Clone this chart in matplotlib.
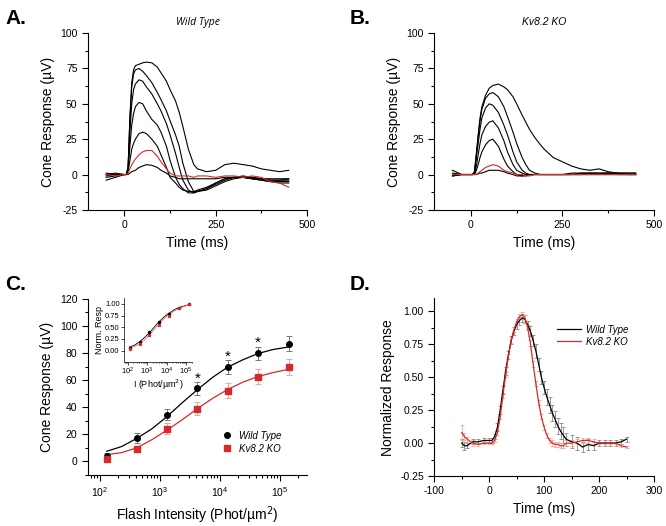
import numpy as np
import matplotlib
matplotlib.use("Agg")
import matplotlib.pyplot as plt
from matplotlib.ticker import MultipleLocator, LogLocator, NullFormatter, FormatStrFormatter

plt.rcParams['font.family'] = ['Liberation Sans', 'DejaVu Sans']
plt.rcParams['axes.linewidth'] = 0.8
plt.rcParams['axes.unicode_minus'] = False

# data ------------------------------------------------------------------

# panel A / B: cone response traces (uV), sampled at trace_t (ms)
trace_t = [-50, -25, 0, 5, 10, 15, 20, 25, 30, 40, 50, 60, 75, 90, 100, 115, 125,
           140, 150, 160, 175, 190, 200, 225, 250, 275, 300, 325, 350, 375, 400, 425, 450]

wt_traces = [
    [0, 0, 0, 0, 5, 40, 65, 74, 77, 78, 79, 79.5, 79, 76, 72, 66, 60,
     52, 44, 34, 18, 7, 4, 2, 3, 7, 8, 7, 6, 4, 3, 2, 3],
    [-1, 0, 0, 0, 5, 40, 62, 71, 74, 75, 73, 70, 65, 58, 53, 45, 38,
     28, 20, 8, -5, -12, -12, -10, -6, -3, -2, -2, -3, -3, -4, -4, -3],
    [0, 1, 0, 0, 4, 30, 50, 60, 64, 67, 66, 62, 57, 50, 45, 36, 28,
     15, 5, -4, -11, -13, -12, -10, -7, -4, -2, -1, -2, -3, -4, -4, -4],
    [1, 0, 0, 0, 3, 20, 35, 43, 48, 51, 50, 45, 39, 35, 30, 20, 10,
     -2, -7, -10, -13, -13, -12, -11, -8, -5, -3, -2, -3, -4, -5, -5, -5],
    [-2, -1, 0, 0, 2, 10, 18, 22, 25, 29, 30, 29, 25, 20, 14, 5, -2,
     -6, -9, -11, -12, -12, -11, -9, -6, -3, -2, -2, -3, -4, -5, -6, -6],
    [-4, -2, 0, 0, 0, 1, 2, 2.5, 3, 5, 6, 7, 6.5, 5, 3, 1, -1,
     -2, -3, -3, -3, -3, -3, -3, -3, -2, -2, -2, -2, -3, -3, -3, -3],
]
wt_dim = [0, -1, 0, 0, 1, 4, 7, 9, 11, 14, 16, 17, 17, 13, 9, 4, 1,
          -1, -1, -1, -1, -2, -1, -1, -2, -1, -1, -2, -1, -2, -5, -6, -9]

ko_traces = [
    [3, 0, 0, 0, 2, 15, 28, 40, 48, 56, 61, 63, 64, 62, 60, 55, 50,
     42, 37, 32, 26, 21, 18, 12, 9, 6, 4, 3, 4, 2, 1, 1, 1],
    [1, 0, 0, 0, 2, 14, 27, 38, 46, 54, 57, 58, 55, 48, 41, 30, 22,
     12, 7, 3, 1, 0, 0, 0, 0, 1, 1, 1, 1, 1, 1, 1, 1],
    [0, 0, 0, 0, 2, 12, 22, 32, 40, 47, 50, 49, 44, 35, 28, 16, 9,
     3, 1, 0, 0, 0, 0, 0, 0, 0, 1, 1, 1, 1, 1, 0, 0],
    [0, 0, 0, 0, 1, 6, 14, 22, 28, 34, 37, 38, 33, 24, 16, 7, 3,
     1, 0, 0, 0, 0, 0, 0, 0, 0, 0, 1, 0, 1, 0, 0, 0],
    [-1, 0, 0, 0, 0, 3, 7, 12, 16, 21, 24, 25, 20, 11, 6, 2, 0,
     -1, 0, 0, 0, 0, 0, 0, 0, 0, 0, 0, 0, 0, 0, 0, 0],
    [-1, 0, 0, 0, 0, 0, 0.5, 1, 1, 2, 3, 3, 3, 2, 1, 0, -1,
     -1, -1, 0, 0, 0, 0, 0, 0, 0, 0, 0, 0, 0, 0, 0, 0],
]
ko_dim = [0, 0, 0, 0, 0, 0, 1, 2, 3, 5, 6, 7, 6, 3, 2, 1, 0,
          0, -1, -1, 0, 0, 0, 0, 0, 0, 0, 0, 0, 0, 0, 0, 0]

# panel C: intensity-response
flash_i = [130, 410, 1300, 4200, 13300, 42000, 140000]
wt_resp = [4, 17.4, 34.5, 53.8, 69.7, 79.7, 86.8]
wt_err = [2, 3.5, 4, 4.5, 5, 5, 5.5]
ko_resp = [2, 9.3, 24, 39, 52, 62.6, 69.7]
ko_err = [1.5, 2, 4, 5, 5.5, 5.5, 6]
star_i = [4200, 13300, 42000]
star_y = [56, 72, 82]

fit_i = [130, 230, 410, 730, 1300, 2300, 4200, 7500, 13300, 24000, 42000, 75000, 140000]
wt_fit = [7.5, 11, 17, 24, 33, 43, 53, 62, 69.5, 75, 79.5, 82.5, 84.5]
ko_fit = [5, 6.5, 10, 16, 23, 30.5, 39, 46.5, 53, 58.5, 62.5, 65.5, 68]

# inset: normalized
wt_norm = [0.05, 0.19, 0.40, 0.61, 0.79, 0.92, 1.00]
ko_norm = [0.03, 0.14, 0.34, 0.55, 0.74, 0.90, 1.00]
wt_norm_fit = [0.08, 0.12, 0.19, 0.28, 0.38, 0.5, 0.62, 0.72, 0.80, 0.87, 0.92, 0.95, 0.98]
ko_norm_fit = [0.06, 0.09, 0.15, 0.23, 0.33, 0.45, 0.57, 0.68, 0.77, 0.84, 0.90, 0.94, 0.98]

# panel D: normalized averaged responses
norm_t = [-50, -45, -40, -30, -20, -10, 0, 5, 10, 15, 20, 25, 30, 35, 40, 45, 50, 55,
          60, 65, 70, 75, 80, 85, 90, 95, 100, 105, 110, 115, 120, 125, 130, 135, 140,
          150, 160, 170, 180, 190, 200, 210, 220, 230, 240, 250]
wt_norm_tr = [0.0, -0.02, -0.02, 0.01, 0.01, 0.02, 0.02, 0.02, 0.05, 0.12, 0.25, 0.40,
              0.55, 0.67, 0.78, 0.85, 0.90, 0.93, 0.95, 0.94, 0.90, 0.85, 0.78, 0.70,
              0.60, 0.50, 0.42, 0.35, 0.29, 0.23, 0.18, 0.13, 0.09, 0.06, 0.03,
              0.01, 0.0, -0.03, -0.01, -0.02, 0.0, 0.0, 0.0, 0.0, 0.01, 0.03]
wt_norm_err = [0.03, 0.03, 0.02, 0.02, 0.02, 0.02, 0.02, 0.02, 0.02, 0.03, 0.03, 0.03,
               0.03, 0.03, 0.03, 0.03, 0.03, 0.03, 0.03, 0.03, 0.03, 0.04, 0.04, 0.05,
               0.05, 0.05, 0.05, 0.06, 0.06, 0.06, 0.06, 0.06, 0.06, 0.06, 0.05,
               0.05, 0.05, 0.04, 0.04, 0.03, 0.02, 0.02, 0.02, 0.02, 0.02, 0.02]
ko_norm_tr = [0.08, 0.05, 0.03, 0.0, -0.01, 0.0, 0.0, 0.0, 0.02, 0.08, 0.20, 0.36,
              0.52, 0.66, 0.78, 0.86, 0.92, 0.96, 0.975, 0.95, 0.88, 0.76, 0.60, 0.45,
              0.31, 0.20, 0.12, 0.06, 0.02, 0.0, -0.01, -0.01, -0.02, -0.02, 0.0,
              0.0, 0.01, 0.02, 0.02, 0.01, 0.0, 0.0, 0.0, 0.0, -0.02, -0.03]
ko_norm_err = [0.06, 0.03, 0.02, 0.02, 0.01, 0.01, 0.01, 0.01, 0.01, 0.02, 0.02, 0.02,
               0.02, 0.02, 0.02, 0.02, 0.02, 0.02, 0.02, 0.02, 0.02, 0.02, 0.02, 0.02,
               0.02, 0.02, 0.02, 0.02, 0.02, 0.02, 0.02, 0.02, 0.02, 0.02, 0.02,
               0.02, 0.02, 0.02, 0.02, 0.02, 0.01, 0.01, 0.01, 0.01, 0.01, 0.01]

RED = '#d42a2a'

# helpers ----------------------------------------------------------------

def open_box(ax):
    ax.spines['top'].set_visible(False)
    ax.spines['right'].set_visible(False)
    ax.tick_params(which='both', direction='out', labelsize=7.5, width=0.8)
    ax.tick_params(which='major', length=4)
    ax.tick_params(which='minor', length=2.5)


def trace_panel(ax, traces, dim, title, title_font):
    for tr in traces:
        ax.plot(trace_t, tr, color='black', lw=0.8)
    ax.plot(trace_t, dim, color=RED, lw=0.8)
    open_box(ax)
    ax.set_xlim(-100, 500)
    ax.set_ylim(-25, 100)
    ax.xaxis.set_major_locator(MultipleLocator(250))
    ax.xaxis.set_minor_locator(MultipleLocator(125))
    ax.yaxis.set_major_locator(MultipleLocator(25))
    ax.yaxis.set_minor_locator(MultipleLocator(12.5))
    ax.set_xlabel('Time (ms)', fontsize=10)
    ax.set_ylabel('Cone Response (\u00b5V)', fontsize=10)
    ax.set_title(title, fontsize=7.5, style='italic', family=title_font, pad=6)


# figure -----------------------------------------------------------------

fig = plt.figure(figsize=(6.66, 5.26), dpi=100)

axA = fig.add_axes([0.132, 0.601, 0.329, 0.336])
trace_panel(axA, wt_traces, wt_dim, 'Wild Type', ['Open Sans', 'DejaVu Sans'])

axB = fig.add_axes([0.652, 0.601, 0.330, 0.336])
trace_panel(axB, ko_traces, ko_dim, 'Kv8.2 KO', ['Liberation Sans', 'DejaVu Sans'])

# C
axC = fig.add_axes([0.132, 0.097, 0.329, 0.335])
axC.set_xscale('log')
axC.plot(fit_i, wt_fit, color='black', lw=0.9)
axC.plot(fit_i, ko_fit, color=RED, lw=0.9)
axC.errorbar(flash_i, wt_resp, yerr=wt_err, fmt='none', ecolor='#777777',
             elinewidth=0.7, capsize=2, capthick=0.7)
axC.errorbar(flash_i, ko_resp, yerr=ko_err, fmt='none', ecolor='#f0a890',
             elinewidth=0.7, capsize=2, capthick=0.7)
axC.plot(flash_i, wt_resp, 'o', color='black', ms=4, label='Wild Type')
axC.plot(flash_i, ko_resp, 's', color=RED, ms=3.8, label='Kv8.2 KO')
for xi, yi in zip(star_i, star_y):
    axC.text(xi, yi, '*', ha='center', va='bottom', fontsize=11)
open_box(axC)
axC.set_xlim(63, 2.8e5)
axC.set_ylim(-10, 120)
axC.yaxis.set_major_locator(MultipleLocator(20))
axC.yaxis.set_minor_locator(MultipleLocator(10))
axC.xaxis.set_major_locator(LogLocator(base=10, numticks=10))
axC.xaxis.set_minor_locator(LogLocator(base=10, subs=np.arange(2, 10), numticks=10))
axC.xaxis.set_minor_formatter(NullFormatter())
axC.set_xlabel('Flash Intensity (Phot/\u00b5m$^2$)', fontsize=10)
axC.set_ylabel('Cone Response (\u00b5V)', fontsize=10)
leg = axC.legend(loc='upper left', bbox_to_anchor=(0.57, 0.30), frameon=False,
                 fontsize=7, handlelength=1.2, handletextpad=0.6, labelspacing=0.3)
for t in leg.get_texts():
    t.set_style('italic')

# inset
axI = fig.add_axes([0.186, 0.312, 0.102, 0.122])
axI.set_xscale('log')
axI.plot(fit_i, wt_norm_fit, color='black', lw=0.6)
axI.plot(fit_i, ko_norm_fit, color='#e07070', lw=0.6)
axI.plot(flash_i, wt_norm, 'o', color='black', ms=1.5)
axI.plot(flash_i, ko_norm, 's', color=RED, ms=1.3)
axI.spines['top'].set_visible(False)
axI.spines['right'].set_visible(False)
axI.tick_params(which='both', direction='out', labelsize=5.5, width=0.5, pad=1)
axI.tick_params(which='major', length=2)
axI.tick_params(which='minor', length=1)
for s in axI.spines.values():
    s.set_linewidth(0.5)
axI.set_xlim(64, 2e5)
axI.set_ylim(-0.24, 1.13)
axI.yaxis.set_major_locator(MultipleLocator(0.25))
axI.yaxis.set_major_formatter(FormatStrFormatter('%.2f'))
axI.xaxis.set_major_locator(LogLocator(base=10, numticks=10))
axI.xaxis.set_minor_locator(LogLocator(base=10, subs=np.arange(2, 10), numticks=10))
axI.xaxis.set_minor_formatter(NullFormatter())
axI.set_xlabel('I (Phot/\u00b5m$^2$)', fontsize=6.5, labelpad=0.5)
axI.set_ylabel('Norm. Resp', fontsize=6.5, labelpad=1)

# D
axD = fig.add_axes([0.652, 0.095, 0.330, 0.338])
axD.errorbar(norm_t, wt_norm_tr, yerr=wt_norm_err, fmt='none', ecolor='#888888',
             elinewidth=0.6, capsize=1.5, capthick=0.6)
axD.errorbar(norm_t, ko_norm_tr, yerr=ko_norm_err, fmt='none', ecolor='#f0a890',
             elinewidth=0.6, capsize=1.5, capthick=0.6)
axD.plot(norm_t, wt_norm_tr, color='black', lw=0.9, label='Wild Type')
axD.plot(norm_t, ko_norm_tr, color=RED, lw=0.9, label='Kv8.2 KO')
open_box(axD)
axD.set_xlim(-100, 300)
axD.set_ylim(-0.25, 1.1)
axD.xaxis.set_major_locator(MultipleLocator(100))
axD.xaxis.set_minor_locator(MultipleLocator(50))
axD.yaxis.set_major_locator(MultipleLocator(0.25))
axD.yaxis.set_minor_locator(MultipleLocator(0.125))
axD.yaxis.set_major_formatter(FormatStrFormatter('%.2f'))
axD.set_xlabel('Time (ms)', fontsize=10)
axD.set_ylabel('Normalized Response', fontsize=10)
leg = axD.legend(loc='upper left', bbox_to_anchor=(0.52, 0.90), frameon=False,
                 fontsize=7, handlelength=2.4, handletextpad=0.6, labelspacing=0.2)
for t in leg.get_texts():
    t.set_style('italic')

# panel letters
for lab, x, y in [('A.', 0.008, 0.955), ('B.', 0.525, 0.955),
                  ('C.', 0.008, 0.448), ('D.', 0.525, 0.448)]:
    fig.text(x, y, lab, fontsize=15, fontweight='bold')

fig.savefig('out.png', dpi=100)
